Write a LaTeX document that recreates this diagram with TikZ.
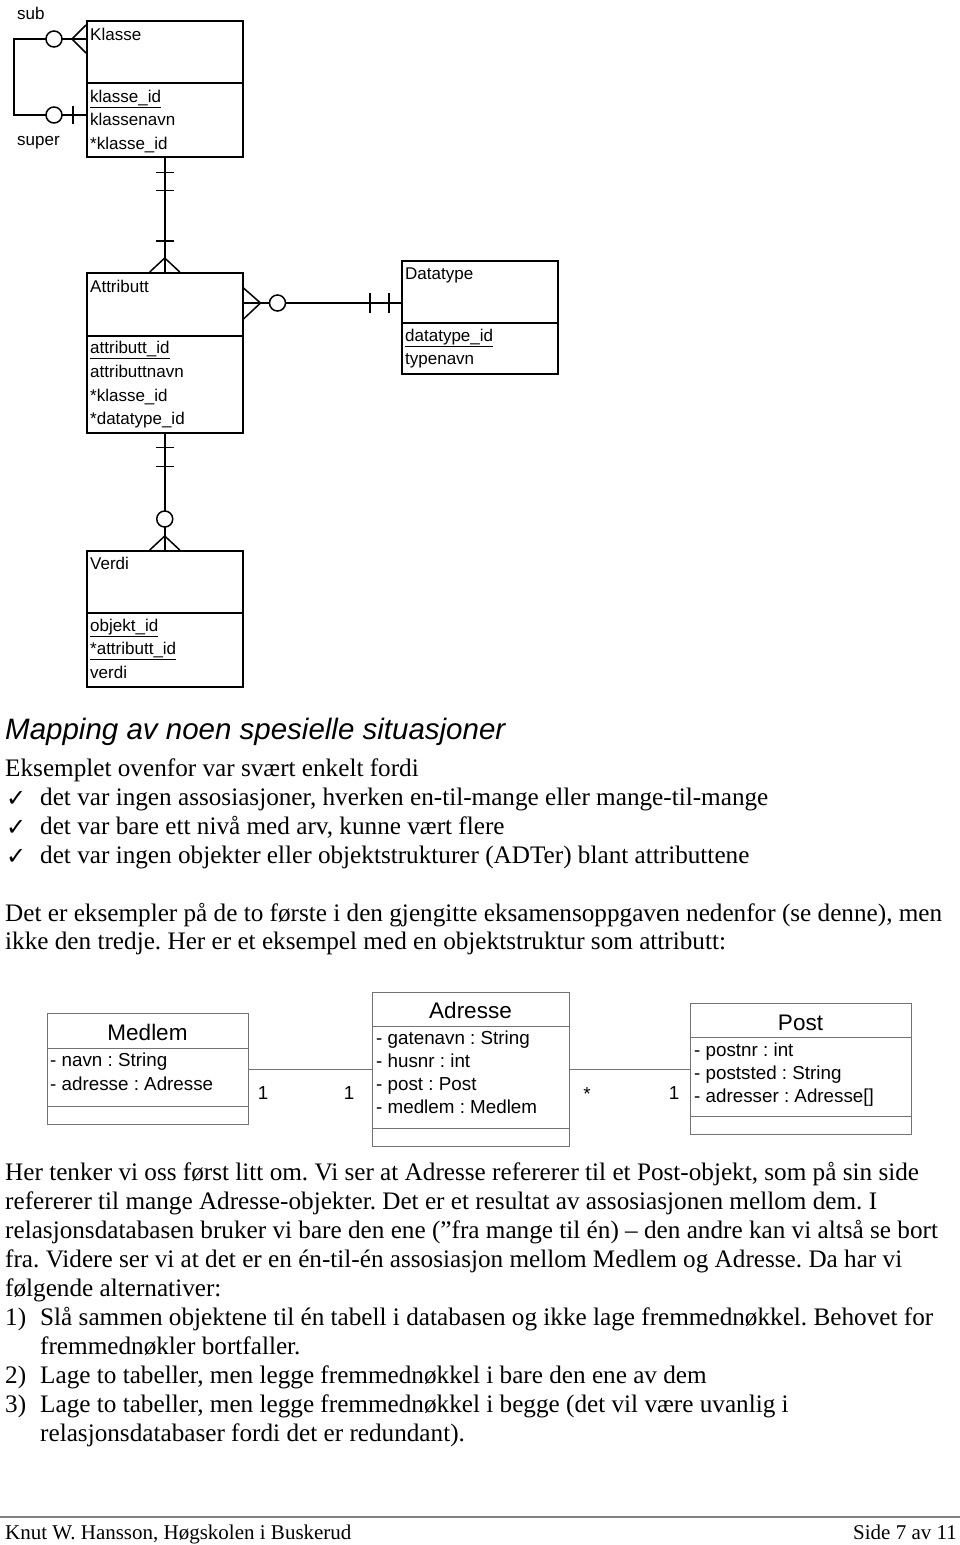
\documentclass[tikz,border=0pt]{standalone}
\usepackage{fontspec}
\setmainfont{Liberation Serif}
\newfontfamily\arialf{Liberation Sans}
\newfontfamily\djv{DejaVu Sans}
\usetikzlibrary{calc}
\frenchspacing
\begin{document}
\begin{tikzpicture}[x=1pt,y=-1pt,
  erbox/.style={draw=black, line width=1.5pt, anchor=north west, inner sep=0pt},
  ertxt/.style={anchor=base west, inner sep=0pt, font=\arialf\fontsize{17}{19}\selectfont},
  erline/.style={draw=black, line width=1.5pt},
  ercirc/.style={draw=black, line width=1.5pt, fill=white},
  umlbox/.style={draw=black!55, line width=1pt, anchor=north west, inner sep=0pt},
  umlline/.style={draw=black!55, line width=1pt},
  umltitle/.style={anchor=base, inner sep=0pt, font=\arialf\fontsize{22.5}{24}\selectfont},
  umltxt/.style={anchor=base west, inner sep=0pt, font=\arialf\fontsize{18.8}{20}\selectfont},
  mult/.style={anchor=base, inner sep=0pt, font=\arialf\fontsize{18.8}{20}\selectfont},
  body/.style={anchor=base west, inner sep=0pt, font=\fontsize{25.2}{29}\selectfont},
  chk/.style={anchor=base west, inner sep=0pt, font=\djv\fontsize{24}{28}\selectfont},
]
\useasboundingbox[fill=white] (0,0) rectangle (960,1545);

% ---------------- ER diagram ----------------
\node[erbox, minimum width=156pt, minimum height=136pt] (klasse) at (86,20) {};
\draw[erline] (86,83) -- (242,83);
\node[ertxt] (klasseT) at (90,40) {Klasse};
\node[ertxt] (k1) at (90,102) {\underline{klasse\_id}};
\node[ertxt] (k2) at (90,125) {klassenavn};
\node[ertxt] (k3) at (90,149) {*klasse\_id};

\node[ertxt] (sublbl) at (17,19) {sub};
\node[ertxt] (superlbl) at (17,145) {super};

\node[erbox, minimum width=156pt, minimum height=160pt] (attributt) at (86,272) {};
\draw[erline] (86,336) -- (242,336);
\node[ertxt] (attT) at (90,292) {Attributt};
\node[ertxt] (a1) at (90,353) {\underline{attributt\_id}};
\node[ertxt] (a2) at (90,377) {attributtnavn};
\node[ertxt] (a3) at (90,401) {*klasse\_id};
\node[ertxt] (a4) at (90,424) {*datatype\_id};

\node[erbox, minimum width=156pt, minimum height=113pt] (datatype) at (401,260) {};
\draw[erline] (401,323) -- (557,323);
\node[ertxt] (dT) at (405,279) {Datatype};
\node[ertxt] (d1) at (405,341) {\underline{datatype\_id}};
\node[ertxt] (d2) at (405,364) {typenavn};

\node[erbox, minimum width=156pt, minimum height=136pt] (verdi) at (86,550) {};
\draw[erline] (86,613) -- (242,613);
\node[ertxt] (vT) at (90,569) {Verdi};
\node[ertxt] (v1) at (90,631) {\underline{objekt\_id}};
\node[ertxt] (v2) at (90,654) {\underline{*attributt\_id}};
\node[ertxt] (v3) at (90,678) {verdi};

% self relation sub/super
\coordinate (kSub) at ($(klasse.north west)+(0,19)$);
\coordinate (kSup) at ($(klasse.north west)+(0,95)$);
\draw[erline] (kSub) -- ++(-72,0) |- (kSup);
\draw[erline] ($(kSub)+(0,-14)$) -- ($(kSub)+(-14,0)$) -- ($(kSub)+(0,14)$);
\draw[ercirc] ($(kSub)+(-32,0)$) circle[radius=8pt];
\draw[ercirc] ($(kSup)+(-32,0)$) circle[radius=8pt];
\draw[erline] ($(kSup)+(-13,-9)$) -- ($(kSup)+(-13,9)$);

% Klasse -- Attributt
\draw[erline] (klasse.south) -- (attributt.north);
\draw[erline] ($(klasse.south)+(-9,15)$) -- ++(18,0);
\draw[erline] ($(klasse.south)+(-9,33)$) -- ++(18,0);
\draw[erline] ($(attributt.north)+(-9,-31)$) -- ++(18,0);
\draw[erline] ($(attributt.north)+(-15,0)$) -- ($(attributt.north)+(0,-14)$) -- ($(attributt.north)+(15,0)$);

% Attributt -- Datatype
\coordinate (aD) at ($(attributt.north east)+(0,31)$);
\draw[erline] (aD) -- (datatype.west |- aD);
\draw[erline] ($(aD)+(0,-15)$) -- ($(aD)+(17,0)$) -- ($(aD)+(0,16)$);
\draw[ercirc] ($(aD)+(34,0)$) circle[radius=8pt];
\draw[erline] ($(datatype.west |- aD)+(-31,-10)$) -- ++(0,20);
\draw[erline] ($(datatype.west |- aD)+(-12,-10)$) -- ++(0,20);

% Attributt -- Verdi
\draw[erline] (attributt.south) -- (verdi.north);
\draw[erline] ($(attributt.south)+(-9,14)$) -- ++(18,0);
\draw[erline] ($(attributt.south)+(-9,33)$) -- ++(18,0);
\draw[ercirc] ($(verdi.north)+(0,-31)$) circle[radius=8pt];
\draw[erline] ($(verdi.north)+(-15,0)$) -- ($(verdi.north)+(0,-14)$) -- ($(verdi.north)+(15,0)$);

% ---------------- text ----------------
\node[anchor=base west, inner sep=0pt, font=\arialf\itshape\fontsize{29.5}{33}\selectfont] (title) at (5,739) {Mapping av noen spesielle situasjoner};
\node[body] (p1) at (5,776) {Eksemplet ovenfor var svært enkelt fordi};
\node[chk] (c1) at (6,806) {✓};
\node[body] (l1) at (40,805) {det var ingen assosiasjoner, hverken en-til-mange eller mange-til-mange};
\node[chk] (c2) at (6,835) {✓};
\node[body] (l2) at (40,834) {det var bare ett nivå med arv, kunne vært flere};
\node[chk] (c3) at (6,864) {✓};
\node[body] (l3) at (40,863) {det var ingen objekter eller objektstrukturer (ADTer) blant attributtene};
\node[body] (p2a) at (5,921) {Det er eksempler på de to første i den gjengitte eksamensoppgaven nedenfor (se denne), men};
\node[body] (p2b) at (5,949) {ikke den tredje. Her er et eksempel med en objektstruktur som attributt:};

% ---------------- UML ----------------
\node[umlbox, minimum width=201pt, minimum height=111pt] (medlem) at (47,1013) {};
\draw[umlline] (47,1048) -- (248,1048);
\draw[umlline] (47,1106) -- (248,1106);
\node[umltitle] (mT) at (147.5,1040) {Medlem};
\node[umltxt] (m1) at (50,1066) {- navn : String};
\node[umltxt] (m2) at (50,1090) {- adresse : Adresse};

\node[umlbox, minimum width=197pt, minimum height=154pt] (adresse) at (372,992) {};
\draw[umlline] (372,1026) -- (569,1026);
\draw[umlline] (372,1128) -- (569,1128);
\node[umltitle] (adT) at (470.5,1018) {Adresse};
\node[umltxt] (ad1) at (376,1044) {- gatenavn : String};
\node[umltxt] (ad2) at (376,1067) {- husnr : int};
\node[umltxt] (ad3) at (376,1090) {- post : Post};
\node[umltxt] (ad4) at (376,1113) {- medlem : Medlem};

\node[umlbox, minimum width=221pt, minimum height=131pt] (post) at (690,1003) {};
\draw[umlline] (690,1037) -- (911,1037);
\draw[umlline] (690,1116) -- (911,1116);
\node[umltitle] (pT) at (800.5,1030) {Post};
\node[umltxt] (p1a) at (694,1056) {- postnr : int};
\node[umltxt] (p2x) at (694,1079) {- poststed : String};
\node[umltxt] (p3x) at (694,1102) {- adresser : Adresse[]};

\draw[umlline] (medlem.east) -- (adresse.west |- medlem.east);
\draw[umlline] (adresse.east) -- (post.west |- adresse.east);
\node[mult] (mu1) at (263,1099) {1};
\node[mult] (mu2) at (349,1099) {1};
\node[mult] (mu3) at (587,1100) {*};
\node[mult] (mu4) at (674,1099) {1};

% ---------------- text after ----------------
\node[body] (q1) at (5,1180) {Her tenker vi oss først litt om. Vi ser at Adresse refererer til et Post-objekt, som på sin side};
\node[body] (q2) at (5,1209) {refererer til mange Adresse-objekter. Det er et resultat av assosiasjonen mellom dem. I};
\node[body] (q3) at (5,1238) {relasjonsdatabasen bruker vi bare den ene (”fra mange til én) – den andre kan vi altså se bort};
\node[body] (q4) at (5,1267) {fra. Videre ser vi at det er en én-til-én assosiasjon mellom Medlem og Adresse. Da har vi};
\node[body] (q5) at (5,1296) {følgende alternativer:};
\node[body] (n1) at (5,1325) {1)};
\node[body] (t1) at (40,1325) {Slå sammen objektene til én tabell i databasen og ikke lage fremmednøkkel. Behovet for};
\node[body] (t1b) at (40,1354) {fremmednøkler bortfaller.};
\node[body] (n2) at (5,1383) {2)};
\node[body] (t2) at (40,1383) {Lage to tabeller, men legge fremmednøkkel i bare den ene av dem};
\node[body] (n3) at (5,1412) {3)};
\node[body] (t3) at (40,1412) {Lage to tabeller, men legge fremmednøkkel i begge (det vil være uvanlig i};
\node[body] (t3b) at (40,1441) {relasjonsdatabaser fordi det er redundant).};

% ---------------- footer ----------------
\coordinate (fl) at (0,1517);
\coordinate (fr) at (960,1517);
\draw[draw=black!50, line width=2pt] (fl) -- (fr);
\node[anchor=base west, inner sep=0pt, font=\fontsize{21}{24}\selectfont] (foot1) at (5,1539) {Knut W. Hansson, Høgskolen i Buskerud};
\node[anchor=base east, inner sep=0pt, font=\fontsize{21}{24}\selectfont] (foot2) at (957,1539) {Side 7 av 11};
\end{tikzpicture}
\end{document}
